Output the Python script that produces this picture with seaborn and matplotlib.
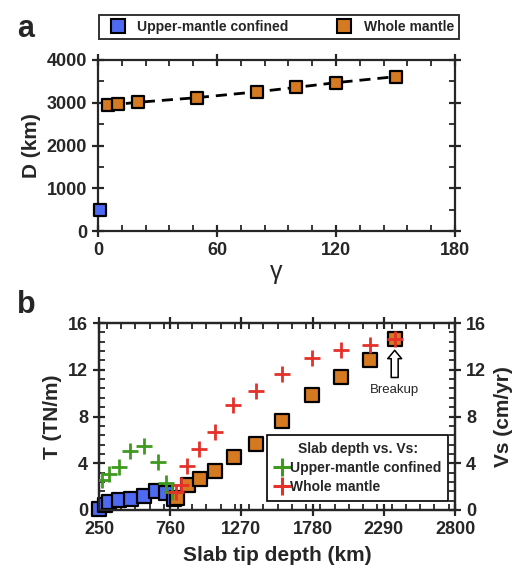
import numpy as np
import pandas as pd
import matplotlib
matplotlib.use("Agg")
import matplotlib.pyplot as plt
from matplotlib.ticker import MultipleLocator
from matplotlib.lines import Line2D
import seaborn as sns

# panel a: slab penetration depth D vs gamma
gamma_um = [1]
D_um = [500]
gamma_wm = [5, 10, 20, 50, 80, 100, 120, 150]
D_wm = [2940, 2965, 3010, 3120, 3255, 3360, 3470, 3610]

# panel b: slab pull T and sinking velocity Vs vs slab tip depth
depth_um = [250, 290, 320, 390, 480, 570, 660, 730, 790]
T_um = [0.1, 0.45, 0.7, 0.85, 0.95, 1.2, 1.6, 1.45, 0.9]
depth_wm = [806, 884, 973, 1080, 1216, 1378, 1564, 1777, 1987, 2194, 2368]
T_wm = [1.0, 2.15, 2.65, 3.3, 4.5, 5.65, 7.65, 9.8, 11.4, 12.85, 14.6]

vdepth_um = [275, 320, 390, 475, 570, 670, 730, 775]
Vs_um = [2.6, 3.1, 3.7, 5.05, 5.45, 4.1, 2.3, 1.55]
vdepth_wm = [805, 838, 882, 968, 1080, 1211, 1378, 1564, 1777, 1987, 2194, 2368]
Vs_wm = [1.5, 2.1, 3.75, 5.2, 6.7, 8.95, 10.2, 11.65, 13.0, 13.65, 14.1, 14.6]

blue = "#4f6af2"
orange = "#d67a22"
green = "#3d9a1e"
red = "#e5312a"

sns.set_style("ticks")
plt.rcParams['font.family'] = ['Liberation Sans', 'DejaVu Sans']
plt.rcParams['font.weight'] = 'bold'
plt.rcParams['axes.linewidth'] = 1.6


def style_ticks(ax, right=True):
    ax.tick_params(which='major', direction='inout', length=9, width=1.6,
                   labelsize=13, top=True, right=right)
    ax.tick_params(which='minor', direction='in', length=4, width=1.3,
                   top=True, right=right)
    for lab in ax.get_xticklabels() + ax.get_yticklabels():
        lab.set_fontweight('bold')


fig = plt.figure(figsize=(5.2, 5.72), dpi=100)

# ---- panel a ----
ax1 = fig.add_axes([98 / 520, 1 - 231 / 572, 357 / 520, 171 / 572])
dfa_um = pd.DataFrame({'g': gamma_um, 'D': D_um})
dfa_wm = pd.DataFrame({'g': gamma_wm, 'D': D_wm})
sns.lineplot(data=dfa_wm, x='g', y='D', ax=ax1, color='black', lw=2,
             linestyle=(0, (4, 2.5)), zorder=2)
sns.scatterplot(data=dfa_wm, x='g', y='D', ax=ax1, marker='s', s=85,
                color=orange, edgecolor='black', linewidth=1.6, zorder=3)
sns.scatterplot(data=dfa_um, x='g', y='D', ax=ax1, marker='s', s=85,
                color=blue, edgecolor='black', linewidth=1.6, zorder=3)
ax1.set_xlim(0, 180)
ax1.set_ylim(0, 4000)
ax1.xaxis.set_major_locator(MultipleLocator(60))
ax1.xaxis.set_minor_locator(MultipleLocator(12))
ax1.yaxis.set_major_locator(MultipleLocator(1000))
ax1.yaxis.set_minor_locator(MultipleLocator(500))
style_ticks(ax1)
ax1.set_xlabel('γ', fontsize=18, fontweight='normal', labelpad=1)
ax1.set_ylabel('D (km)', fontsize=15, fontweight='bold', labelpad=4)
for c in ax1.collections:
    c.set_clip_on(False)

handles_a = [
    Line2D([], [], marker='s', ls='', ms=9.5, mfc=blue, mec='black', mew=1.5,
           label='Upper-mantle confined'),
    Line2D([], [], marker='s', ls='', ms=9.5, mfc=orange, mec='black', mew=1.5,
           label='Whole mantle'),
]
leg_a = fig.legend(handles=handles_a, loc='lower left', ncol=2, mode='expand',
                   bbox_to_anchor=(99 / 520, 1 - 39 / 572, 360 / 520, 28 / 572),
                   frameon=True, fancybox=False, edgecolor='black',
                   prop={'size': 10, 'weight': 'bold'}, handletextpad=0.4,
                   borderpad=0.35, borderaxespad=0)
leg_a.get_frame().set_linewidth(1.4)

fig.text(17 / 520, 1 - 29 / 572, 'a', fontsize=22, fontweight='bold', va='center')

# ---- panel b ----
ax2 = fig.add_axes([99 / 520, 1 - 510 / 572, 356 / 520, 187 / 572])
ax3 = ax2.twinx()
dfb_um = pd.DataFrame({'depth': depth_um, 'T': T_um})
dfb_wm = pd.DataFrame({'depth': depth_wm, 'T': T_wm})
dfv_um = pd.DataFrame({'depth': vdepth_um, 'Vs': Vs_um})
dfv_wm = pd.DataFrame({'depth': vdepth_wm, 'Vs': Vs_wm})

sns.scatterplot(data=dfb_um, x='depth', y='T', ax=ax2, marker='s', s=90,
                color=blue, edgecolor='black', linewidth=1.6, zorder=3, clip_on=False)
sns.scatterplot(data=dfb_wm, x='depth', y='T', ax=ax2, marker='s', s=90,
                color=orange, edgecolor='black', linewidth=1.6, zorder=3, clip_on=False)
sns.scatterplot(data=dfv_um, x='depth', y='Vs', ax=ax3, marker='+', s=140,
                color=green, linewidth=2, zorder=4)
sns.scatterplot(data=dfv_wm, x='depth', y='Vs', ax=ax3, marker='+', s=140,
                color=red, linewidth=2, zorder=4)

for ax in (ax2, ax3):
    ax.set_xlim(250, 2800)
    ax.set_ylim(0, 16)
    ax.yaxis.set_major_locator(MultipleLocator(4))
    ax.yaxis.set_minor_locator(MultipleLocator(0.8))
ax2.xaxis.set_minor_locator(MultipleLocator(102))
ax2.set_xticks([250, 760, 1270, 1780, 2290, 2800])
style_ticks(ax2, right=False)
style_ticks(ax3)
ax3.tick_params(which='both', left=False, top=False, bottom=False)
ax2.set_xlabel('Slab tip depth (km)', fontsize=15, fontweight='bold', labelpad=6)
ax2.set_ylabel('T (TN/m)', fontsize=15, fontweight='bold', labelpad=4)
ax3.set_ylabel('Vs (cm/yr)', fontsize=15, fontweight='bold', rotation=90,
               labelpad=6)

ax3.annotate('', xy=(2368, 13.9), xytext=(2368, 11.1),
             arrowprops=dict(arrowstyle='simple,head_width=1.0,head_length=0.6,tail_width=0.5',
                             fc='white', ec='black', lw=1.1))
ax3.text(2368, 10.3, 'Breakup', fontsize=9.5, fontweight='normal', ha='center', va='center')

handles_b = [
    Line2D([], [], marker='+', ls='', ms=13, mew=2.2, color=green,
           label='Upper-mantle confined'),
    Line2D([], [], marker='+', ls='', ms=13, mew=2.2, color=red,
           label='Whole mantle'),
]
leg_b = ax3.legend(handles=handles_b, title='Slab depth vs. Vs:', loc='lower right',
                   bbox_to_anchor=(0.98, 0.05), frameon=True, fancybox=False,
                   edgecolor='black', prop={'size': 10, 'weight': 'bold'},
                   title_fontproperties={'size': 10, 'weight': 'bold'},
                   handletextpad=0.0, handlelength=1.1, borderpad=0.5,
                   labelspacing=0.35, borderaxespad=0)
leg_b.get_frame().set_linewidth(1.2)
leg_b.get_frame().set_alpha(1)
leg_b.set_zorder(2)

fig.text(17 / 520, 1 - 305 / 572, 'b', fontsize=22, fontweight='bold', va='center')

fig.savefig('out.png', dpi=100)
